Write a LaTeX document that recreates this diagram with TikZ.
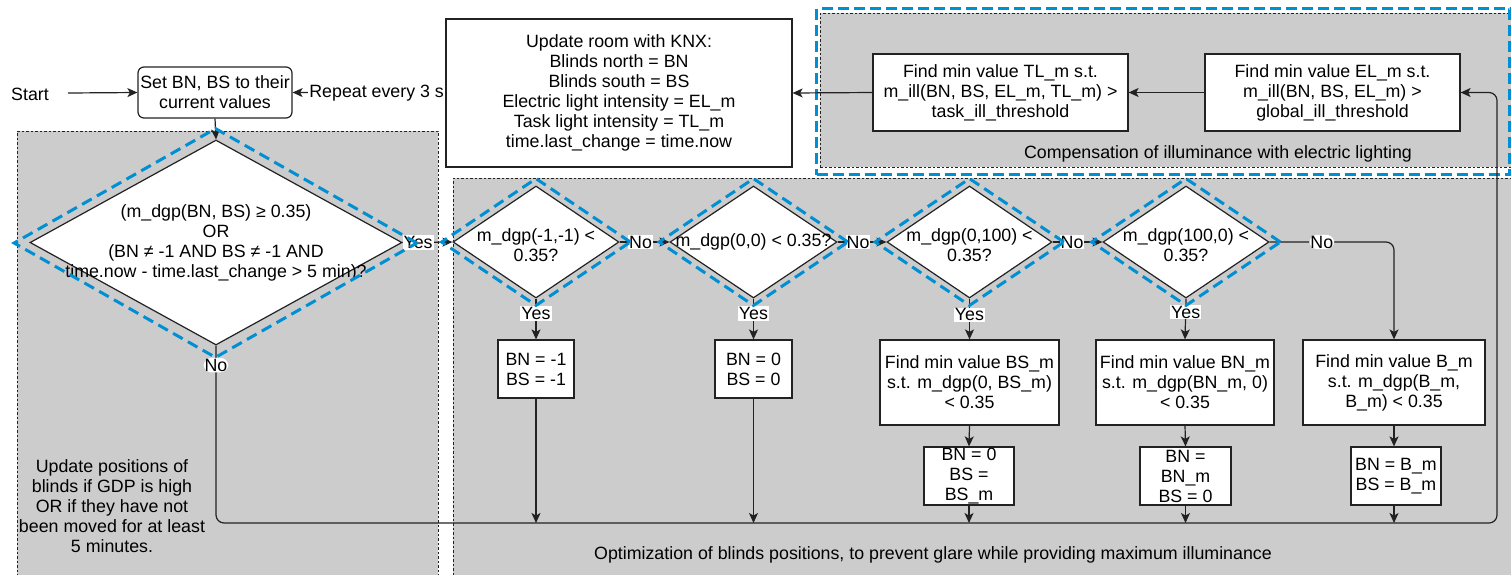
\documentclass[tikz,border=0pt]{standalone}
\usepackage{fontspec}
\setmainfont{Liberation Sans}
\usetikzlibrary{shapes.geometric, arrows.meta}
\definecolor{hiblue}{RGB}{0,143,211}
\definecolor{regiongray}{RGB}{204,204,204}
\definecolor{linegray}{RGB}{34,34,34}

\begin{document}
\begin{tikzpicture}[
    x=1pt, y=-1pt,
    >={Stealth[length=10pt, width=9pt, inset=2.5pt]},
    every node/.style={font=\fontsize{17.8}{20}\selectfont},
    box/.style={
      rectangle, draw=linegray, fill=white, line width=1.2pt,
      align=center, inner sep=2pt,
    },
    rbox/.style={box, rounded corners=6pt},
    setbox/.style={box, inner ysep=0.5pt, minimum height=58pt},
    decision/.style={
      diamond, draw=linegray, fill=white, line width=1.2pt, inner sep=0pt,
    },
    dlab/.style={align=center, inner sep=0pt},
    region/.style={
      rectangle, fill=regiongray, draw=linegray, line width=0.7pt,
      dash pattern=on 2.5pt off 2pt, inner sep=0pt, anchor=north west,
    },
    hirect/.style={
      rectangle, draw=hiblue, line width=3pt,
      dash pattern=on 11pt off 5pt, inner sep=0pt, anchor=north west,
    },
    hidiam/.style={
      diamond, draw=hiblue, line width=3pt,
      dash pattern=on 11pt off 6pt, inner sep=0pt,
    },
    arr/.style={->, draw=linegray, line width=1.2pt},
    yn/.style={fill=white, inner sep=1pt},
    seclab/.style={align=center, inner sep=0pt},
  ]

  \useasboundingbox (0,0) rectangle (1511,574);
  \clip (0,0) rectangle (1511,574);

  % ---- Grouping regions ----
  \node[region, minimum width=421pt, minimum height=470pt] (gdpreg) at (17,131) {};
  \node[region, minimum width=1080pt, minimum height=420pt] (optreg) at (453,178) {};
  \node[region, minimum width=720pt, minimum height=154pt] (compreg) at (820,13) {};
  \node[hirect, minimum width=693pt, minimum height=166pt] (compfr) at (815,7) {};

  \node[seclab] (gdpnote) at (112,506) {Update positions of\\blinds if GDP is high\\OR if they have not\\been moved for at least\\5 minutes.};
  \node[seclab] (optnote) at (933,555) {Optimization of blinds positions, to prevent glare while providing maximum illuminance};
  \node[seclab] (compnote) at (1218,154) {Compensation of illuminance with electric lighting};

  % ---- Top row ----
  \node (start) at (30,94) {Start};
  \coordinate (startout) at (68,93);
  \node[rbox, minimum width=154pt, minimum height=51pt] (init) at (215,92.5) {Set BN, BS to their\\current values};
  \node[box, minimum width=346pt, minimum height=148pt] (knx) at (619,93) {Update room with KNX:\\Blinds north = BN\\Blinds south = BS\\Electric light intensity = EL\_m\\Task light intensity = TL\_m\\time.last\_change = time.now};
  \node[box, minimum width=255pt, minimum height=77pt] (tl) at (1000.5,92.5) {Find min value TL\_m s.t.\\m\_ill(BN, BS, EL\_m, TL\_m) >\\task\_ill\_threshold};
  \node[box, minimum width=255pt, minimum height=77pt] (el) at (1332.5,92.5) {Find min value EL\_m s.t.\\m\_ill(BN, BS, EL\_m) >\\global\_ill\_threshold};

  \draw[arr] (startout) -- (init.west);
  \draw[arr] (knx.west) -- node[yn, pos=0.45] {Repeat every 3 s} (init.east);
  \draw[arr] (el.west) -- (tl.east);
  \draw[arr] (tl.west) -- (knx.east);

  % ---- GDP check ----
  \node[decision, minimum width=372pt, minimum height=205pt,
    label={[dlab]center:{(m\_dgp(BN, BS) ≥ 0.35)\\OR\\(BN ≠ -1 AND BS ≠ -1 AND\\time.now - time.last\_change > 5 min)?}}] (gdp) at (216,242.5) {};
  \draw[arr] (init.south) -- (gdp.north);

  % ---- Blind position tests ----
  \node[decision, minimum width=166pt, minimum height=112pt,
    label={[dlab, yshift=-3pt]center:{m\_dgp(-1,-1) <\\0.35?}}] (cl) at (536,242) {};
  \node[decision, minimum width=167pt, minimum height=112pt,
    label={[dlab]center:{m\_dgp(0,0) < 0.35?}}] (op) at (753.5,242) {};
  \node[decision, minimum width=165pt, minimum height=112pt,
    label={[dlab, yshift=-3pt]center:{m\_dgp(0,100) <\\0.35?}}] (bs) at (969.5,242) {};
  \node[decision, minimum width=166pt, minimum height=112pt,
    label={[dlab, yshift=-3pt]center:{m\_dgp(100,0) <\\0.35?}}] (bn) at (1186,242) {};

  \draw[arr] (gdp.east) -- node[yn, pos=0.31] {Yes} (cl.west);
  \draw[arr] (cl.east) -- node[yn, pos=0.42] {No} (op.west);
  \draw[arr] (op.east) -- node[yn, pos=0.42] {No} (bs.west);
  \draw[arr] (bs.east) -- node[yn, pos=0.39] {No} (bn.west);

  % ---- Resulting positions ----
  \node[setbox, minimum width=76pt] (clset) at (536,369) {BN = -1\\BS = -1};
  \node[setbox, minimum width=77pt] (opset) at (753.5,369) {BN = 0\\BS = 0};
  \node[box, minimum width=179pt, minimum height=85pt] (bsfind) at (969.5,382.5) {Find min value BS\_m\\s.t. m\_dgp(0, BS\_m)\\< 0.35};
  \node[box, minimum width=178pt, minimum height=85pt] (bnfind) at (1185,382.5) {Find min value BN\_m\\s.t. m\_dgp(BN\_m, 0)\\< 0.35};
  \node[box, minimum width=182pt, minimum height=85pt] (bfind) at (1394,382.5) {Find min value B\_m\\s.t. m\_dgp(B\_m,\\B\_m) < 0.35};
  \node[setbox, minimum width=90pt] (bsset) at (969,476) {BN = 0\\BS =\\BS\_m};
  \node[setbox, minimum width=91pt] (bnset) at (1185.5,476) {BN =\\BN\_m\\BS = 0};
  \node[setbox, minimum width=90pt] (bset) at (1396,476) {BN = B\_m\\BS = B\_m};

  \draw[arr] (cl.south) -- node[yn, pos=0.36] {Yes} (clset.north);
  \draw[arr] (op.south) -- node[yn, pos=0.36] {Yes} (opset.north);
  \draw[arr] (bs.south) -- node[yn, pos=0.4] {Yes} (bsfind.north);
  \draw[arr] (bn.south) -- node[yn, pos=0.33] {Yes} (bnfind.north);
  \draw[arr, rounded corners=8pt] (bn.east) -| node[yn, pos=0.21] {No} (bfind.north);
  \draw[arr] (bsfind.south) -- (bsset.north);
  \draw[arr] (bnfind.south) -- (bnset.north);
  \draw[arr] (bfind.south) -- (bfind.south |- bset.north);

  % ---- Return line to lighting compensation ----
  \coordinate (busL) at (216,523);
  \coordinate (busR) at (1497,523);
  \draw[arr, rounded corners=8pt] (gdp.south) -- node[yn, pos=0.11] {No} (busL) -- (busR) |- (el.east);
  \foreach \n in {clset, opset, bsset, bnset} {
    \draw[arr] (\n.south) -- (\n.south |- busR);
  }
  \draw[arr] (bfind.south |- bset.south) -- (bfind.south |- busR);

  % ---- Highlighted decisions ----
  \node[hidiam, minimum width=404pt, minimum height=230pt] (gdphl) at (215.5,243) {};
  \node[hidiam, minimum width=190pt, minimum height=128pt] (clhl) at (536,242) {};
  \node[hidiam, minimum width=190pt, minimum height=128pt] (ophl) at (753.5,242) {};
  \node[hidiam, minimum width=190pt, minimum height=128pt] (bshl) at (969.5,242) {};
  \node[hidiam, minimum width=190pt, minimum height=128pt] (bnhl) at (1186,242) {};

\end{tikzpicture}
\end{document}
